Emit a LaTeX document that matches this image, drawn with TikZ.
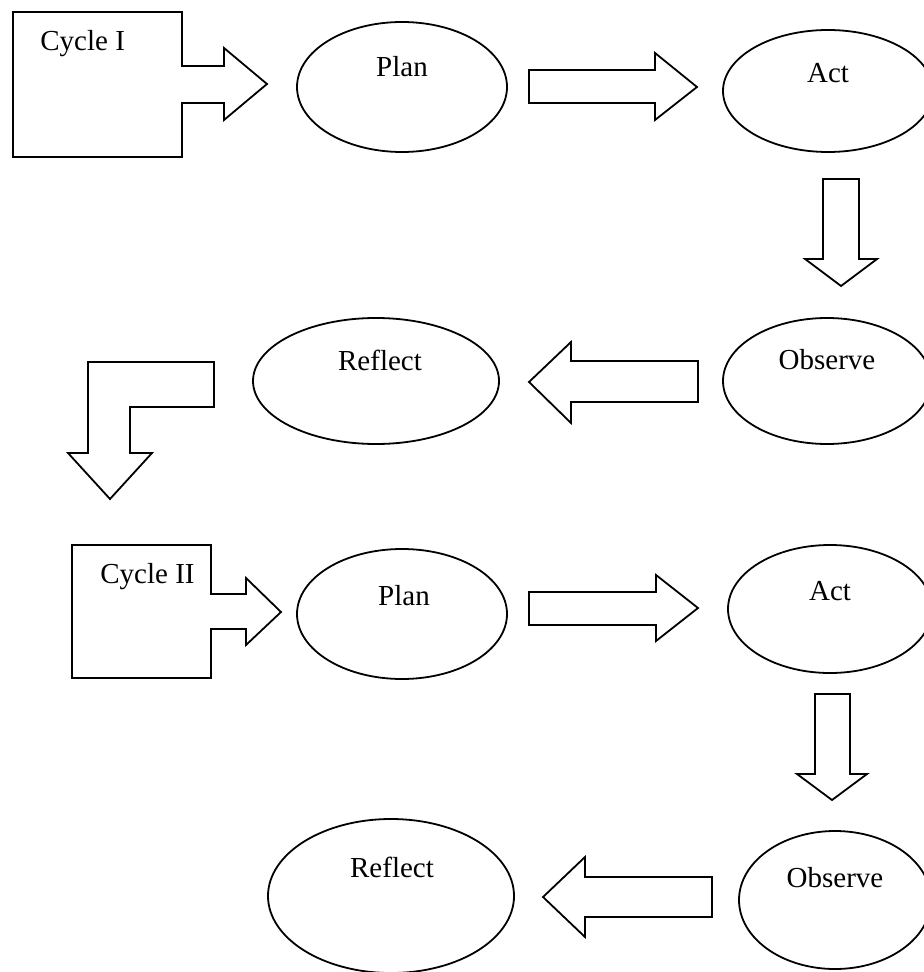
\documentclass[tikz,border=0pt]{standalone}
\usepackage{fontspec}
\setmainfont{Liberation Serif}
\usetikzlibrary{shapes.geometric}
\begin{document}
\begin{tikzpicture}[x=0.5pt,y=-0.5pt,
  ell/.style={draw,ellipse,line width=0.9pt,inner sep=0pt,outer sep=0pt},
  blk/.style={draw,line width=0.9pt,line join=miter},
  lbl/.style={inner sep=0pt,anchor=base,font=\fontsize{14.5}{17}\selectfont},
  lblw/.style={inner sep=0pt,anchor=base west,font=\fontsize{14.5}{17}\selectfont}]
\useasboundingbox[fill=white] (0,0) rectangle (923,972);
% ellipses
\node[ell,minimum width=210pt*0.5,minimum height=130pt*0.5] (plan1) at (402,87) {};
\node[ell,minimum width=210pt*0.5,minimum height=122pt*0.5] (act1) at (828,91) {};
\node[ell,minimum width=208pt*0.5,minimum height=126pt*0.5] (obs1) at (827,381) {};
\node[ell,minimum width=246pt*0.5,minimum height=126pt*0.5] (ref1) at (376,381) {};
\node[ell,minimum width=210pt*0.5,minimum height=130pt*0.5] (plan2) at (402,614) {};
\node[ell,minimum width=204pt*0.5,minimum height=128pt*0.5] (act2) at (830,609) {};
\node[ell,minimum width=192pt*0.5,minimum height=138pt*0.5] (obs2) at (835,900) {};
\node[ell,minimum width=246pt*0.5,minimum height=154pt*0.5] (ref2) at (391,896) {};
% labels
\node[lbl] (plan1t) at (402,77) {Plan};
\node[lbl] (act1t) at (828,83) {Act};
\node[lbl] (obs1t) at (827,370) {Observe};
\node[lbl] (ref1t) at (380,371) {Reflect};
\node[lbl] (plan2t) at (404,605) {Plan};
\node[lbl] (act2t) at (830,600) {Act};
\node[lbl] (obs2t) at (835,887) {Observe};
\node[lbl] (ref2t) at (392,877) {Reflect};
\node[lblw] (cyc1) at (40,51) {Cycle I};
\node[lblw] (cyc2) at (100,583) {Cycle II};
% cycle boxes with arrows
\draw[blk] (13,12) -- (182,12) -- (182,66) -- (224,66) -- (224,48) -- (267,84) -- (224,120) -- (224,103) -- (182,103) -- (182,157) -- (13,157) -- cycle;
\draw[blk] (72,545) -- (211,545) -- (211,594) -- (246,594) -- (246,578) -- (281,612) -- (246,645) -- (246,629) -- (211,629) -- (211,678) -- (72,678) -- cycle;
% block arrows
\draw[blk] (529,70) -- (655,70) -- (655,53) -- (697,87) -- (655,120) -- (655,103) -- (529,103) -- cycle;
\draw[blk] (823,179) -- (859,179) -- (859,259) -- (877,259) -- (841,286) -- (805,259) -- (823,259) -- cycle;
\draw[blk] (698,361) -- (571,361) -- (571,342) -- (529,382) -- (571,423) -- (571,402) -- (698,402) -- cycle;
\draw[blk] (88,362) -- (214,362) -- (214,407) -- (130,407) -- (130,453) -- (152,453) -- (110,499) -- (68,453) -- (88,453) -- cycle;
\draw[blk] (529,592) -- (656,592) -- (656,575) -- (698,608) -- (656,641) -- (656,625) -- (529,625) -- cycle;
\draw[blk] (815,694) -- (850,694) -- (850,774) -- (867,774) -- (832,800) -- (797,774) -- (815,774) -- cycle;
\draw[blk] (712,877) -- (585,877) -- (585,857) -- (543,897) -- (585,937) -- (585,917) -- (712,917) -- cycle;
\end{tikzpicture}
\end{document}
